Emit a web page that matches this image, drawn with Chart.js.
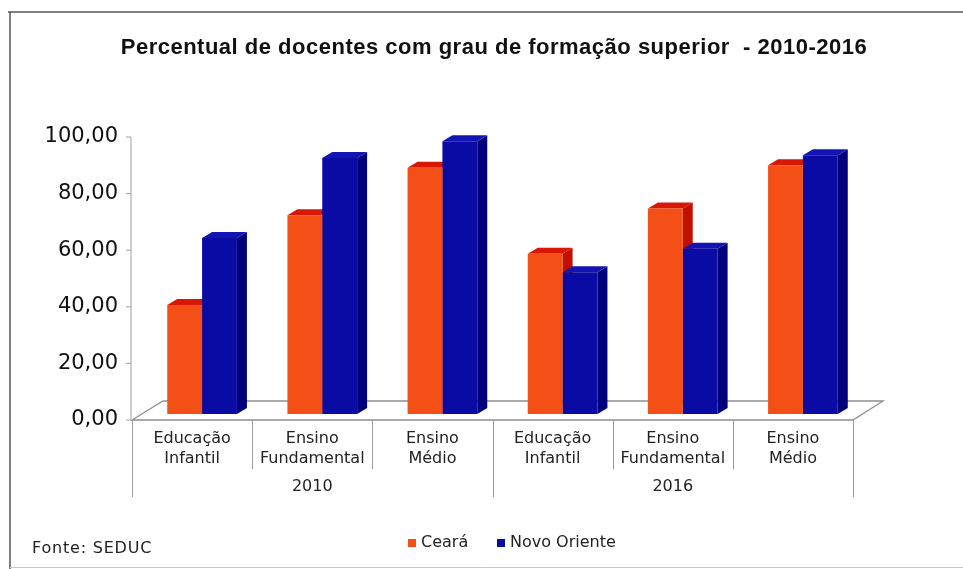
<!DOCTYPE html>
<html>
<head>
<meta charset="utf-8">
<script src="https://cdn.jsdelivr.net/npm/chart.js@4"></script>
<style>
html,body{margin:0;padding:0;background:#fff}
#wrap{width:963px;height:569px;position:relative}
</style>
</head>
<body>
<div id="wrap"><canvas id="chart" width="963" height="569"></canvas></div>
<script>
const categories = [["Educação","Infantil"],["Ensino","Fundamental"],["Ensino","Médio"],["Educação","Infantil"],["Ensino","Fundamental"],["Ensino","Médio"]];
const years = ["2010","2016"];
const cearaValues = [38.5,70.2,87.0,56.6,72.6,87.9];
const novoOrienteValues = [62.2,90.5,96.4,50.1,58.4,91.4];
const yTicks = [0,20,40,60,80,100];

const titleText = "Percentual de docentes com grau de formação superior  - 2010-2016";
const sourceText = "Fonte: SEDUC";

// depth of the fake 3d look
const DX = 10, DY = 6;

function poly(ctx, pts){
ctx.beginPath();
ctx.moveTo(pts[0][0],pts[0][1]);
for(let i=1;i<pts.length;i++) ctx.lineTo(pts[i][0],pts[i][1]);
ctx.closePath();
ctx.fill();
}

const bars3d = {
id:"bars3d",
beforeDatasetsDraw(chart){
const ctx = chart.ctx, ca = chart.chartArea, ys = chart.scales.y;
const fl = ca.left-10, fr = ca.right-10, fb = ca.bottom+6;
ctx.save();
// floor
ctx.beginPath();
ctx.moveTo(fl,fb);ctx.lineTo(fr,fb);ctx.lineTo(fr+30,fb-19);ctx.lineTo(fl+31,fb-19);ctx.closePath();
ctx.strokeStyle="#8f8f8f";ctx.lineWidth=1.3;ctx.stroke();
// value axis
ctx.beginPath();
ctx.moveTo(fl-1,ys.getPixelForValue(yTicks[yTicks.length-1])+6);
ctx.lineTo(fl-1,fb);
yTicks.forEach(v=>{
const y=ys.getPixelForValue(v)+6;
ctx.moveTo(fl-6,y);ctx.lineTo(fl-1,y);
});
ctx.strokeStyle="#a0a0a0";ctx.lineWidth=1;ctx.stroke();
// side and top faces
chart.data.datasets.forEach((ds,di)=>{
chart.getDatasetMeta(di).data.forEach(bar=>{
const l=bar.x-bar.width/2, r=bar.x+bar.width/2, t=bar.y, b=bar.base;
ctx.fillStyle=ds.sideColor;
poly(ctx,[[r,t],[r+DX,t-DY],[r+DX,b-DY],[r,b]]);
ctx.fillStyle=ds.topColor;
poly(ctx,[[l,t],[l+DX,t-DY],[r+DX,t-DY],[r,t]]);
});
});
ctx.restore();
},
afterDraw(chart){
const ctx = chart.ctx, xs = chart.scales.x, x2 = chart.scales.x2, ca = chart.chartArea;
ctx.save();
// category dividers
const cw=(xs.right-xs.left)/categories.length;
ctx.beginPath();
for(let i=0;i<=categories.length;i++){
const x=Math.round(xs.left-10+i*cw)+0.5;
ctx.moveTo(x,ca.bottom+6);
ctx.lineTo(x,i%3===0?x2.bottom:xs.bottom);
}
ctx.strokeStyle="#9a9a9a";ctx.lineWidth=1;ctx.stroke();
// title
ctx.fillStyle="#111";
ctx.font="bold 22px 'Liberation Sans', Arial, sans-serif";
ctx.letterSpacing="0.5px";
ctx.textAlign="center";ctx.textBaseline="middle";
ctx.fillText(titleText,494,48);
ctx.letterSpacing="0px";
// legend
ctx.font="16px 'DejaVu Sans', sans-serif";
ctx.textAlign="left";
const leg=[[408,421],[497,510]];
chart.data.datasets.forEach((ds,i)=>{
ctx.fillStyle=ds.backgroundColor;
ctx.fillRect(leg[i][0],539,8,8);
ctx.fillStyle="#222";
ctx.fillText(ds.label,leg[i][1],543);
});
// source
ctx.font="16px 'DejaVu Sans', sans-serif";
ctx.letterSpacing="0.8px";
ctx.fillText(sourceText,32,549);
ctx.letterSpacing="0px";
// frame
ctx.strokeStyle="#555";ctx.lineWidth=1.5;
ctx.beginPath();
ctx.moveTo(8,12);ctx.lineTo(963,12);
ctx.moveTo(10,12);ctx.lineTo(10,569);
ctx.stroke();
ctx.strokeStyle="#c8c8c8";ctx.lineWidth=1;
ctx.beginPath();ctx.moveTo(10,567.5);ctx.lineTo(963,567.5);ctx.stroke();
ctx.restore();
}
};

const tickFont={family:"'DejaVu Sans', sans-serif",size:16,lineHeight:1.3};

new Chart(
document.getElementById("chart"),
{
type:"bar",
data:{
labels:categories,
datasets:[{
label:"Ceará",
data:cearaValues,
backgroundColor:"#F34F16",
sideColor:"#C21000",
topColor:"#D81804",
barPercentage:1,
categoryPercentage:0.58
},{
label:"Novo Oriente",
data:novoOrienteValues,
backgroundColor:"#0A0AA4",
sideColor:"#00007A",
topColor:"#1414B4",
barPercentage:1,
categoryPercentage:0.58
}]
},
plugins:[bars3d],
options:{
responsive:false,
animation:false,
layout:{padding:{top:131,left:0,right:100,bottom:72}},
plugins:{legend:{display:false},title:{display:false},tooltip:{enabled:false}},
scales:{
x:{
type:"category",
weight:0,
grid:{display:false,drawTicks:false},
border:{display:false},
ticks:{labelOffset:-10,padding:14,autoSkip:false,maxRotation:0,color:"#222",font:tickFont},
afterFit(s){s.height=55;}
},
x2:{
type:"category",
labels:years,
position:"bottom",
offset:true,
weight:1,
grid:{display:false,drawTicks:false},
border:{display:false},
ticks:{labelOffset:-10,padding:8,maxRotation:0,color:"#222",font:{family:"'DejaVu Sans', sans-serif",size:16,lineHeight:1.2}},
afterFit(s){s.height=28;}
},
y:{
min:0,max:100,
grid:{display:false,drawTicks:false},
border:{display:false},
afterBuildTicks(s){s.ticks=yTicks.map(v=>({value:v}));},
ticks:{
labelOffset:6,padding:24,color:"#111",
font:{family:"'DejaVu Sans', sans-serif",size:21},
callback:v=>v.toFixed(2).replace(".",",")
},
afterFit(s){s.width=142;}
}
}
}
});
</script>
</body>
</html>
